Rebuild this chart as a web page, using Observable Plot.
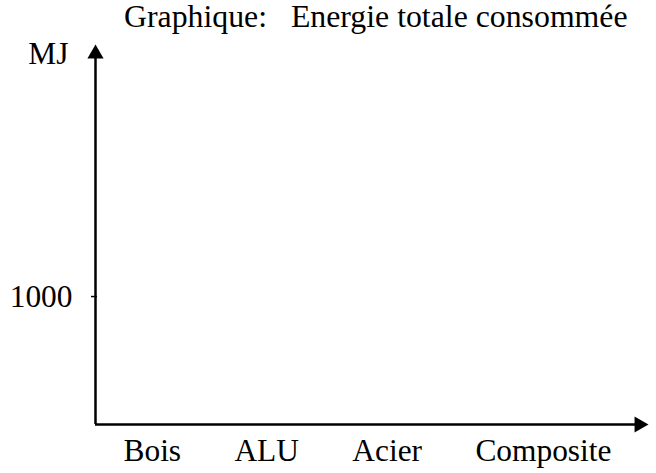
<!DOCTYPE html>
<html>
<head>
<meta charset="utf-8">
<script src="https://cdn.jsdelivr.net/npm/d3@7"></script>
<script src="https://cdn.jsdelivr.net/npm/@observablehq/plot@0.6"></script>
<style>
  html, body { margin: 0; padding: 0; background: #fff; }
  #title {
    font-family: "Liberation Serif", "Times New Roman", serif;
    font-size: 31.8px; line-height: 34px; height: 34px;
    padding-left: 124px; white-space: pre; color: #000;
  }
  #chart svg { display: block; }
  #chart svg, #chart svg text, #chart svg tspan {
    font-family: "Liberation Serif", "Times New Roman", serif !important;
  }
</style>
</head>
<body>
<div id="title"></div>
<div id="chart"></div>
<script>
const titleText = "Graphique:   Energie totale consommée";
const yLabel = "MJ";
const categories = ["Bois", "ALU", "Acier", "Composite"];
const yTicks = [1000];
const yMax = 2970;
const xDomain = [0, 1];

document.getElementById("title").textContent = titleText;

const sep = "\u00a0".repeat(6) + "\u2009";
const serif = "Liberation Serif";

const chart = Plot.plot({
  width: 656,
  height: 439,
  marginLeft: 95,
  marginRight: 8,
  marginTop: 10,
  marginBottom: 49,
  style: { fontFamily: serif, fontSize: "31.4px", background: "white", color: "black" },
  x: { domain: xDomain, axis: null },
  y: { domain: [0, yMax], axis: null },
  marks: [
    Plot.ruleX([xDomain[0]], { x: d => d, strokeWidth: 2.5, insetTop: 6 }),
    Plot.ruleY([0], { y: d => d, strokeWidth: 2.5, insetRight: 6 }),
    Plot.dot([yMax], { y: d => d, frameAnchor: "left", symbol: "triangle", r: 6, fill: "black", stroke: "none", dy: 9.3 }),
    Plot.dot([0], { y: d => d, frameAnchor: "right", symbol: "triangle", r: 6, rotate: 90, fill: "black", stroke: "none", dx: -9.3 }),
    Plot.axisY(yTicks, {
      anchor: "left", tickSize: 6, dx: 2, tickPadding: 19, strokeWidth: 1.5,
      tickFormat: d => String(d), label: null, fontFamily: serif
    }),
    Plot.text([yLabel], { frameAnchor: "top-left", text: d => d, textAnchor: "end", lineAnchor: "bottom", dx: -27, dy: 19, fontFamily: serif }),
    Plot.text([categories.join(sep)], { frameAnchor: "bottom-left", text: d => d, textAnchor: "start", lineAnchor: "bottom", dx: 28, dy: 36.7, fontFamily: serif })
  ]
});
document.getElementById("chart").appendChild(chart);
</script>
</body>
</html>
